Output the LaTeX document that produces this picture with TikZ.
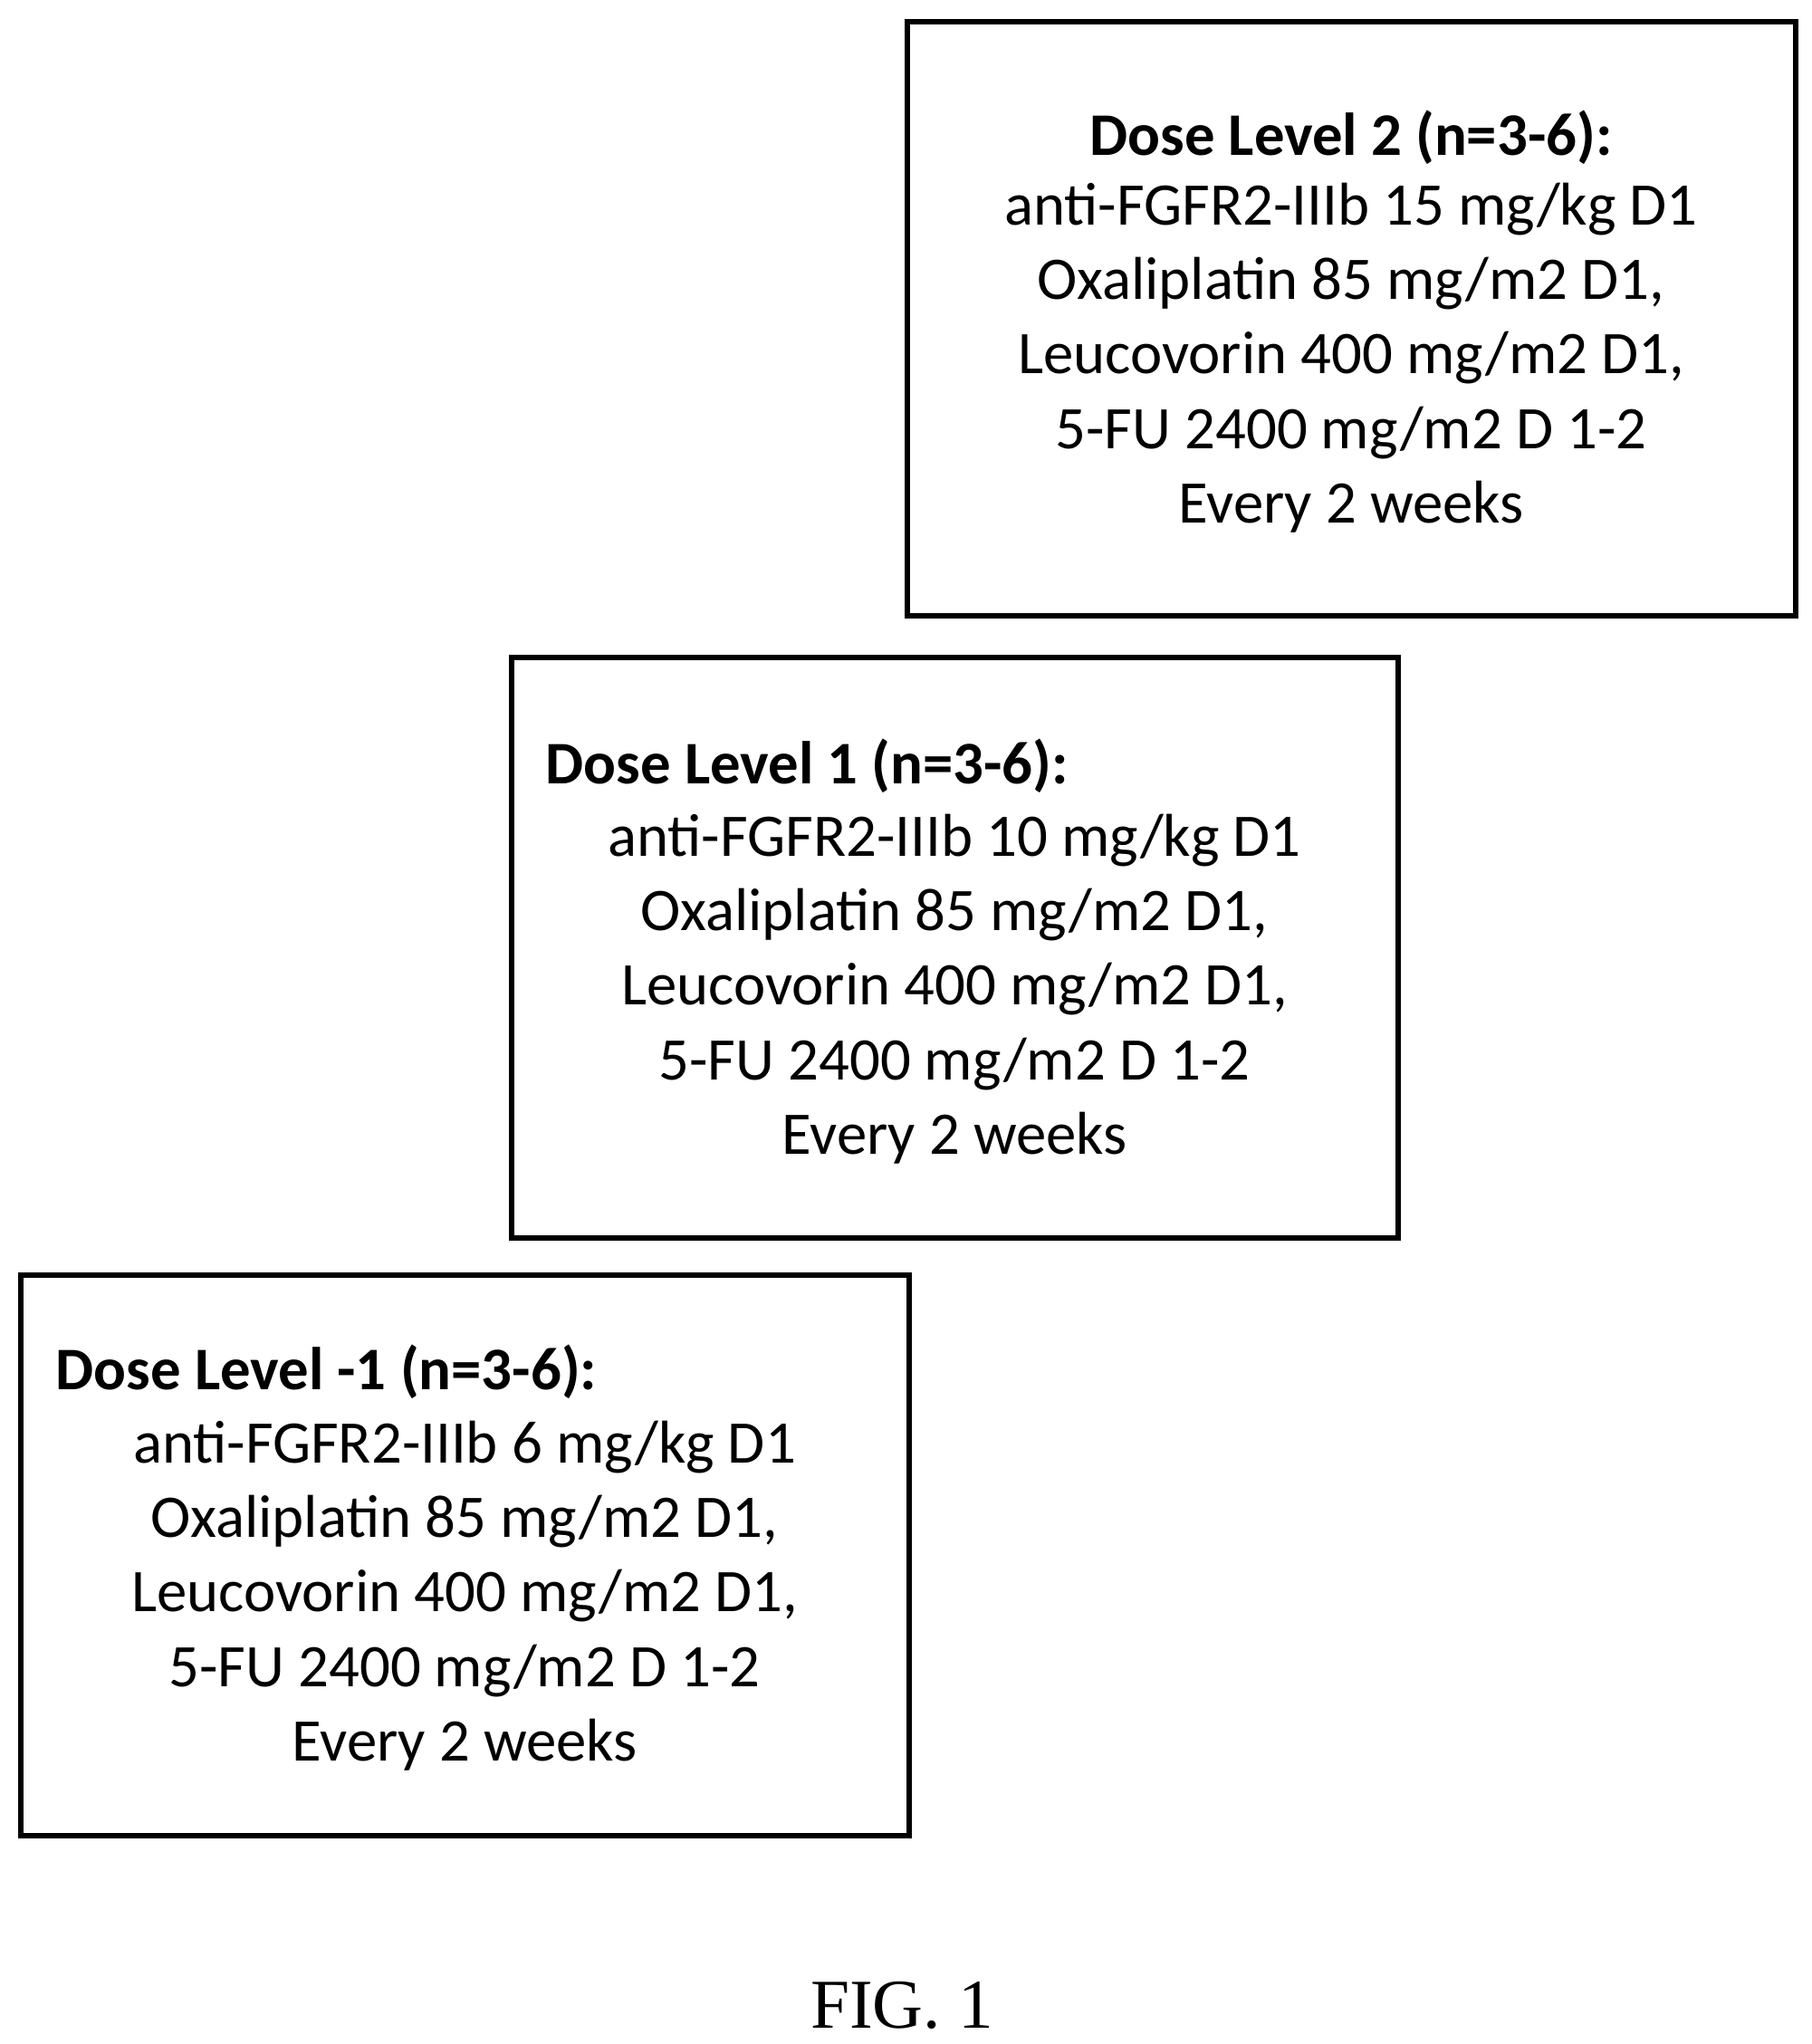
\documentclass[tikz,border=0pt]{standalone}
\usepackage{fontspec}
\setmainfont{Carlito}
\newfontfamily\figfont{Liberation Serif}
\usetikzlibrary{positioning}
\tikzset{
  dosebox/.style={draw, line width=1.7pt, inner sep=0pt},
  dosetitle/.style={font=\fontsize{19}{23.4}\selectfont\bfseries, inner sep=0pt},
  dosebody/.style={font=\fontsize{19}{23.4}\selectfont, align=center, inner sep=0pt}
}
\begin{document}
\begin{tikzpicture}
  \useasboundingbox (0,0) rectangle (20,-22.57);
  % boxes
  \node[dosebox, minimum width=9.81cm, minimum height=6.555cm] (boxB) at (14.925,-3.52) {};
  \node[dosebox, minimum width=9.79cm, minimum height=6.41cm] (boxA) at (10.545,-10.465) {};
  \node[dosebox, minimum width=9.81cm, minimum height=6.19cm] (boxM) at (5.135,-17.175) {};
  % dose level 2
  \node[dosetitle] (titleB) at (14.92,-1.52) {Dose Level 2 (n=3-6):};
  \node[dosebody] (bodyB) at (14.92,-3.95) {anti-FGFR2-IIIb 15 mg/kg D1\\Oxaliplatin 85 mg/m2 D1,\\Leucovorin 400 mg/m2 D1,\\5-FU 2400 mg/m2 D 1-2\\Every 2 weeks};
  % dose level 1
  \node[dosetitle, anchor=west] (titleA) at (6.02,-8.46) {Dose Level 1 (n=3-6):};
  \node[dosebody] (bodyA) at (10.54,-10.92) {anti-FGFR2-IIIb 10 mg/kg D1\\Oxaliplatin 85 mg/m2 D1,\\Leucovorin 400 mg/m2 D1,\\5-FU 2400 mg/m2 D 1-2\\Every 2 weeks};
  % dose level -1
  \node[dosetitle, anchor=west] (titleM) at (0.61,-15.15) {Dose Level -1 (n=3-6):};
  \node[dosebody] (bodyM) at (5.13,-17.62) {anti-FGFR2-IIIb 6 mg/kg D1\\Oxaliplatin 85 mg/m2 D1,\\Leucovorin 400 mg/m2 D1,\\5-FU 2400 mg/m2 D 1-2\\Every 2 weeks};
  \node[font=\figfont\fontsize{22}{26}\selectfont] (fig) at (9.96,-22.14) {FIG. 1};
\end{tikzpicture}
\end{document}
